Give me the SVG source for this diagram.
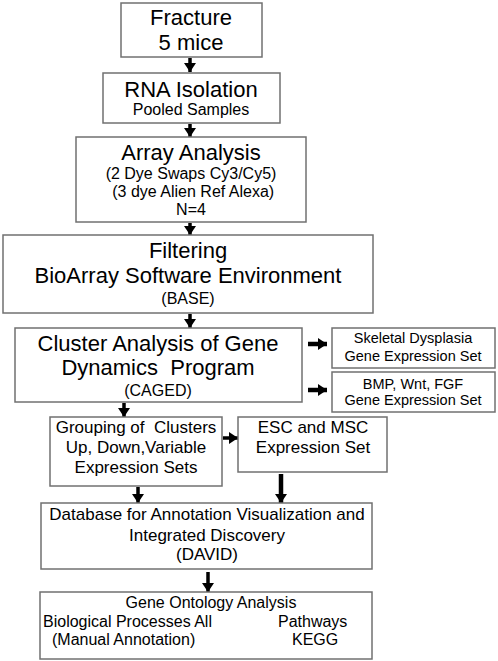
<svg xmlns="http://www.w3.org/2000/svg" width="498" height="661" viewBox="0 0 498 661">
<style>
.box{fill:#fff;stroke:#707070;stroke-width:1.5}
text{font-family:"Liberation Sans",Arial,sans-serif;fill:#000;text-anchor:middle;white-space:pre}
.t22{font-size:22px}
.t17{font-size:17px}
.t16{font-size:16px}
.t14{font-size:14.5px}
.l{text-anchor:start}
.c{stroke:#000;stroke-width:3.5;fill:none;marker-end:url(#ah)}
.w{stroke-width:4.5}
</style>
<defs>
<marker id="ah" markerUnits="userSpaceOnUse" markerWidth="9" markerHeight="12" refX="9" refY="6" orient="auto">
<path d="M0,0 L9,6 L0,12 Z" fill="#000"/>
</marker>
</defs>
<rect width="498" height="661" fill="#fff"/>
<g id="connectors">
<path class="c" d="M190,58 V72"/>
<path class="c" d="M190,124 V137"/>
<path class="c" d="M190,223 V235"/>
<path class="c" d="M190,314 V328"/>
<path class="c w" d="M308,344 H327"/>
<path class="c w" d="M308,390 H327"/>
<path class="c" d="M124,403 V417"/>
<path class="c" d="M223,438 H238"/>
<path class="c" d="M138,487 V503"/>
<path class="c w" d="M281,474 V503"/>
<path class="c" d="M208,572 V592"/>
</g>
<g id="fracture">
<rect class="box" x="121" y="3" width="141" height="54"/>
<text class="t22" x="191" y="25">Fracture</text>
<text class="t22" x="191" y="50">5 mice</text>
</g>
<g id="rna">
<rect class="box" x="103" y="73" width="177" height="50"/>
<text class="t22" x="191" y="97">RNA Isolation</text>
<text class="t16" x="191" y="115">Pooled Samples</text>
</g>
<g id="array">
<rect class="box" x="76" y="137" width="230" height="85"/>
<text class="t22" x="191" y="160">Array Analysis</text>
<text class="t16" x="191" y="179">(2 Dye Swaps Cy3/Cy5)</text>
<text class="t16" x="191" y="197"> (3 dye Alien Ref Alexa)</text>
<text class="t16" x="191" y="215">N=4</text>
</g>
<g id="filtering">
<rect class="box" x="3" y="235" width="370" height="78"/>
<text class="t22" x="188" y="258">Filtering</text>
<text class="t22" x="188" y="283">BioArray Software Environment</text>
<text class="t16" x="188" y="304">(BASE)</text>
</g>
<g id="caged">
<rect class="box" x="15" y="328" width="287" height="74"/>
<text class="t22" x="158" y="351">Cluster Analysis of Gene</text>
<text class="t22" x="158" y="375">Dynamics  Program</text>
<text class="t16" x="158" y="396">(CAGED)</text>
</g>
<g id="skeletal">
<rect class="box" x="332" y="328" width="163" height="40"/>
<text class="t14" x="413" y="343">Skeletal Dysplasia</text>
<text class="t14" x="413" y="361">Gene Expression Set</text>
</g>
<g id="bmp">
<rect class="box" x="332" y="372" width="163" height="40"/>
<text class="t14" x="413" y="389">BMP, Wnt, FGF</text>
<text class="t14" x="413" y="405">Gene Expression Set</text>
</g>
<g id="grouping">
<rect class="box" x="50" y="417" width="172" height="69"/>
<text class="t17" x="136" y="433">Grouping of  Clusters</text>
<text class="t17" x="136" y="453">Up, Down,Variable</text>
<text class="t17" x="136" y="473">Expression Sets</text>
</g>
<g id="esc">
<rect class="box" x="238" y="417" width="149" height="55"/>
<text class="t17" x="313" y="433">ESC and MSC</text>
<text class="t17" x="313" y="453">Expression Set</text>
</g>
<g id="david">
<rect class="box" x="41" y="503" width="331" height="66"/>
<text class="t17" x="207" y="520">Database for Annotation Visualization and</text>
<text class="t17" x="207" y="541">Integrated Discovery</text>
<text class="t17" x="207" y="560">(DAVID)</text>
</g>
<g id="go">
<rect class="box" x="40" y="592" width="332" height="67"/>
<text class="t16" x="211" y="608">Gene Ontology Analysis</text>
<text class="t16 l" x="43" y="627">Biological Processes All</text>
<text class="t16 l" x="278" y="627">Pathways</text>
<text class="t16 l" x="52" y="645">(Manual Annotation)</text>
<text class="t16 l" x="292" y="645">KEGG</text>
</g>
</svg>
